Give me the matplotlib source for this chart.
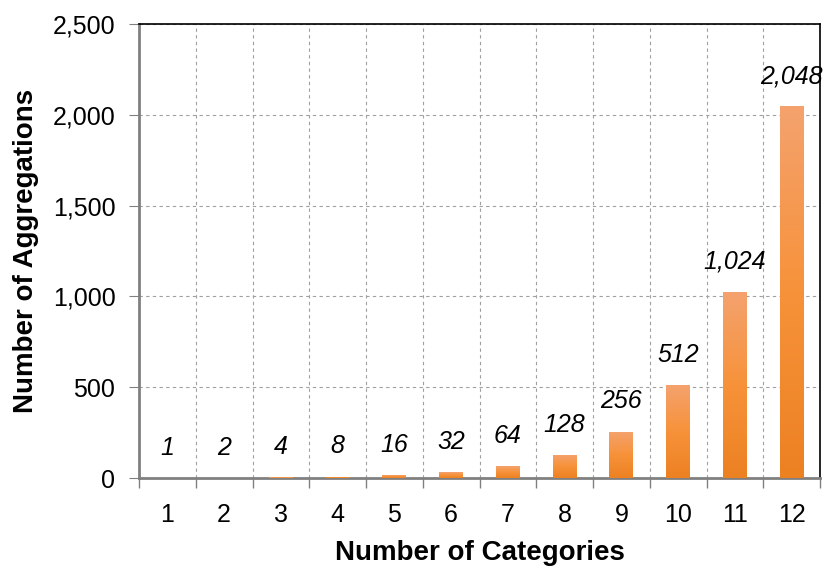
import matplotlib.pyplot as plt
import numpy as np
from matplotlib.colors import LinearSegmentedColormap
from matplotlib.ticker import FuncFormatter, MultipleLocator

plt.rcParams['font.family'] = ['Liberation Sans', 'DejaVu Sans']

categories = [1, 2, 3, 4, 5, 6, 7, 8, 9, 10, 11, 12]
aggregations = [1, 2, 4, 8, 16, 32, 64, 128, 256, 512, 1024, 2048]

fig = plt.figure(figsize=(8.25, 5.66), dpi=100)
ax = fig.add_axes([139/825, 1 - 478/566, 681/825, 454/566])

x = np.arange(len(categories))
bars = ax.bar(x, aggregations, width=0.42, color='#F28A30', zorder=3)

# vertical gradient per bar: light at top, darker at bottom
cmap = LinearSegmentedColormap.from_list('og', ['#EC8122', '#F7923A', '#F4A26E'])
grad = np.linspace(0, 1, 256).reshape(-1, 1)
for b in bars:
    bx, by = b.get_x(), b.get_y()
    w, h = b.get_width(), b.get_height()
    im = ax.imshow(grad, cmap=cmap, aspect='auto', origin='lower',
                   extent=[bx, bx + w, by, by + h], zorder=3)
    im.set_clip_path(b)
    b.set_facecolor('none')

for xi, v in zip(x, aggregations):
    ax.annotate(f'{v:,}', (xi, v), xytext=(0, 13), textcoords='offset points',
                ha='center', va='bottom', fontsize=18, style='italic', zorder=4)

ax.set_xlim(-0.5, len(categories) - 0.5)
ax.set_ylim(0, 2500)
ax.yaxis.set_major_locator(MultipleLocator(500))
ax.yaxis.set_major_formatter(FuncFormatter(lambda v, p: f'{int(v):,}'))
ax.set_xticks(x)
ax.set_xticklabels([str(c) for c in categories])
ax.set_xticks(np.arange(-0.5, len(categories)), minor=True)

ax.tick_params(axis='x', which='major', length=0, pad=18, labelsize=18)
ax.tick_params(axis='x', which='minor', length=7, color='#808080', width=1)
ax.tick_params(axis='y', which='major', length=7, color='#808080', labelsize=18, pad=10)

ax.grid(True, axis='y', which='major', linestyle=(0, (3, 3)), color='#A0A0A0', lw=0.8, zorder=0)
ax.grid(True, axis='x', which='minor', linestyle=(0, (3, 3)), color='#A0A0A0', lw=0.8, zorder=0)

for s in ['left', 'bottom']:
    ax.spines[s].set_color('#808080')
    ax.spines[s].set_linewidth(2)
for s in ['top', 'right']:
    ax.spines[s].set_color('black')
    ax.spines[s].set_linewidth(1.2)

ax.set_xlabel('Number of Categories', fontsize=20, fontweight='bold', labelpad=9)
ax.set_ylabel('Number of Aggregations', fontsize=20, fontweight='bold', labelpad=10)

fig.savefig('out.png', dpi=100)
